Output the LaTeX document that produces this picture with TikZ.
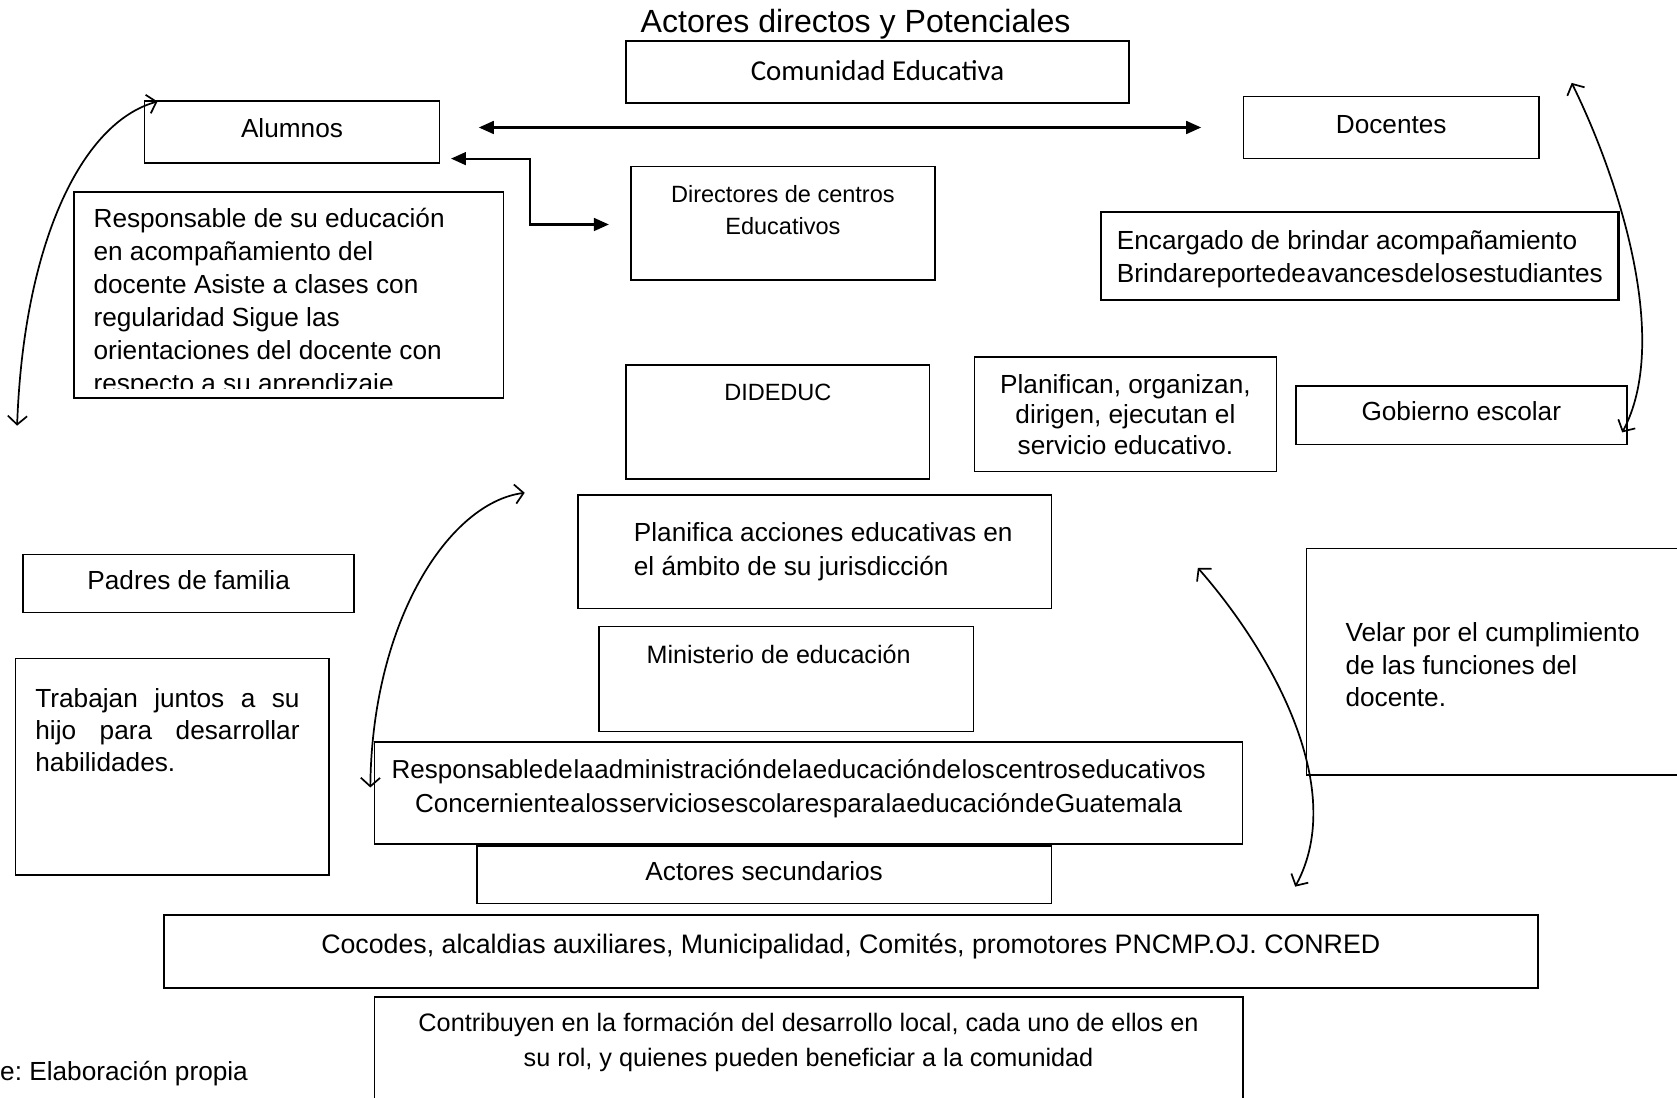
\documentclass[tikz,border=0pt]{standalone}
\usepackage{fontspec}
\setmainfont{Liberation Sans}
\newfontfamily\calibri{Carlito}
\usepackage{tikz}
\usetikzlibrary{positioning,calc,arrows.meta}

\tikzset{
  box/.style={draw, line width=1.4pt, inner sep=0pt},
  boxthick/.style={box, line width=2pt},
  txt/.style={inner sep=0pt, font=\fontsize{24.5}{30.7}\selectfont},
  narrowtxt/.style={inner sep=0pt, font=\fontsize{22}{30}\selectfont},
  oneline/.style={text height=18pt, text depth=7.5pt},
  link/.style={line width=2pt, {Triangle[length=14pt,width=12pt]}-{Triangle[length=14pt,width=12pt]}},
  swing/.style={line width=1.6pt, {Straight Barb[length=8pt,width=18pt]}-{Straight Barb[length=8pt,width=18pt]}}
}
\newcommand{\tightwords}{\spaceskip=0.6pt\relax}

\begin{document}
\frenchspacing
\begin{tikzpicture}[x=1pt,y=-1pt]
    \useasboundingbox (0,0) rectangle (1568,1026);
    \clip (0,0) rectangle (1568,1026);

    % Title
    \node[inner sep=0pt, anchor=base, font=\fontsize{30}{36}\selectfont] (title) at (800,30) {Actores directos y Potenciales};

    % Comunidad educativa
    \node[box, text height=20pt, text depth=5pt, minimum width=470, minimum height=58, font=\calibri\fontsize{27}{32}\selectfont] (comunidad) at (820.5,67.3) {Comunidad Educativa};

    % Alumnos and Docentes
    \node[box, txt, oneline, minimum width=276, minimum height=58] (alumnos) at (273,123.6) {Alumnos};
    \node[box, txt, oneline, minimum width=276, minimum height=58] (docentes) at (1300.8,119.2) {Docentes};

    % Directores
    \node[box, minimum width=284, minimum height=106] (directores) at (732,208.9) {};
    \node[narrowtxt, align=center, below=18pt of directores.north] (directorestext) {Directores de centros\\Educativos};

    % Alumnos text box (last line cut by the frame)
    \node[box, minimum width=402, minimum height=193] (respsu) at (270,275.8) {};
    \begin{scope}
      \clip (respsu.north west) rectangle ([yshift=10pt]respsu.south east);
      \node[txt, font=\fontsize{24.5}{30.9}\selectfont, align=left, anchor=north west] (respsutext) at ([shift={(19,16)}]respsu.north west) {Responsable de su educación\\en acompañamiento del\\docente Asiste a clases con\\regularidad Sigue las\\orientaciones del docente con\\respecto a su aprendizaje};
    \end{scope}

    % Docentes text box
    \node[boxthick, minimum width=483.5, minimum height=82] (encargado) at (1271.5,239.5) {};
    \node[txt, font=\fontsize{24.5}{31}\selectfont, align=left] (encargadotext) at ([yshift=-3pt]encargado.center) {Encargado de brindar acompañamiento\\{\tightwords Brinda reporte de avances de los estudiantes}};

    % DIDEDUC
    \node[box, minimum width=284, minimum height=106.7] (dideduc) at (727.3,394.7) {};
    \node[narrowtxt, below=18pt of dideduc.north] (dideductext) {DIDEDUC};

    % Gobierno escolar
    \node[box, txt, font=\fontsize{24.5}{28.3}\selectfont, align=center, minimum width=282.6, minimum height=107] (planifican) at (1052.3,387.5) {Planifican, organizan,\\dirigen, ejecutan el\\servicio educativo.};
    \node[box, txt, oneline, minimum width=309.5, minimum height=54.5] (gobierno) at (1366.3,388.3) {Gobierno escolar};

    % DIDEDUC text box
    \node[box, minimum width=443, minimum height=106] (planifica) at (761.7,515.8) {};
    \node[txt, font=\fontsize{24.5}{32.6}\selectfont, align=left, right=53pt of planifica.west] (planificatext) {Planifica acciones educativas en\\el ámbito de su jurisdicción};

    % Padres de familia
    \node[box, txt, oneline, minimum width=309.4, minimum height=54.5] (padres) at (176.4,545.5) {Padres de familia};
    \node[box, minimum width=293, minimum height=202.5] (trabajan) at (161.1,716.8) {};
    \node[txt, font=\fontsize{24.5}{30}\selectfont, align=left, anchor=north west] (trabajantext) at ([shift={(19,28.5)}]trabajan.north west) {\makebox[247pt][s]{Trabajan juntos a su}\\\makebox[247pt][s]{hijo para desarrollar}\\habilidades.};

    % Gobierno escolar text box
    \node[box, minimum width=378.5, minimum height=212] (velar) at (1410.8,618.7) {};
    \node[txt, font=\fontsize{24.5}{30.3}\selectfont, align=left, right=37pt of velar.west, yshift=-3pt] (velartext) {Velar por el cumplimiento\\de las funciones del\\docente.};

    % Ministerio
    \node[box, minimum width=350, minimum height=98] (ministerio) at (735,635) {};
    \node[narrowtxt, font=\fontsize{23.5}{28}\selectfont, below=18pt of ministerio.north, xshift=-7pt] (ministeriotext) {Ministerio de educación};
    \node[box, minimum width=811.7, minimum height=95.5] (respadmin) at (755.8,741.3) {};
    \node[txt, font=\fontsize{24.3}{32}\selectfont, align=center] (respadmintext) at ([shift={(-9pt,4pt)}]respadmin.center) {\tightwords Responsable de la administración de la educación de los centros educativos\\\tightwords Concerniente a los servicios escolares para la educación de Guatemala};

    % Actores secundarios
    \node[box, txt, oneline, minimum width=537, minimum height=53.6] (secundarios) at (714.5,817.8) {Actores secundarios};
    \node[boxthick, minimum width=1285, minimum height=68.5] (cocodes) at (795.5,889.8) {};
    \node[txt, font=\fontsize{25}{30}\selectfont] (cocodestext) at ([yshift=5pt]cocodes.center) {Cocodes, alcaldias auxiliares, Municipalidad, Comités, promotores PNCMP.OJ. CONRED};
    \node[box, minimum width=812, minimum height=113] (contribuyen) at (756,988.5) {};
    \node[txt, font=\fontsize{23.6}{32}\selectfont, align=center, below=16pt of contribuyen.north] (contribuyentext) {Contribuyen en la formación del desarrollo local, cada uno de ellos en\\su rol, y quienes pueden beneficiar a la comunidad};

    % Source
    \node[txt, anchor=base west] (fuente) at (0,1010) {e: Elaboración propia};

    % Straight arrows
    \draw[link, shorten <=36pt, shorten >=39pt] (alumnos.east |- docentes.west) -- (docentes.west);
    \coordinate (turn) at ($(alumnos.east)!0.47!(directores.west)$);
    \coordinate (dirin) at ([shift={(-20,1)}]directores.west);
    \draw[link] ([shift={(10,-5)}]alumnos.south east) -| (turn |- dirin) -- (dirin);

    % Curved arrows
    \coordinate (leftend) at (16,398);
    \draw[swing] (leftend) .. controls (22,230) and (75,115) .. ([shift={(13,1)}]alumnos.north west);
    \coordinate (docup) at ([shift={(30,-12)}]docentes.north east);
    \draw[swing] (docup) .. controls (1515,170) and (1562,320) .. ([shift={(-5,16)}]gobierno.east);
    \coordinate (dideducin) at ([shift={(-94,12)}]dideduc.south west);
    \draw[swing] (dideducin) .. controls (420,470) and (348,580) .. ([shift={(-3,-5)}]respadmin.west);
    \coordinate (planifin) at (1120,531);
    \coordinate (velarout) at (1211,829);
    \draw[swing] (planifin) .. controls (1185,605) and (1262,735) .. (velarout);
\end{tikzpicture}
\end{document}
